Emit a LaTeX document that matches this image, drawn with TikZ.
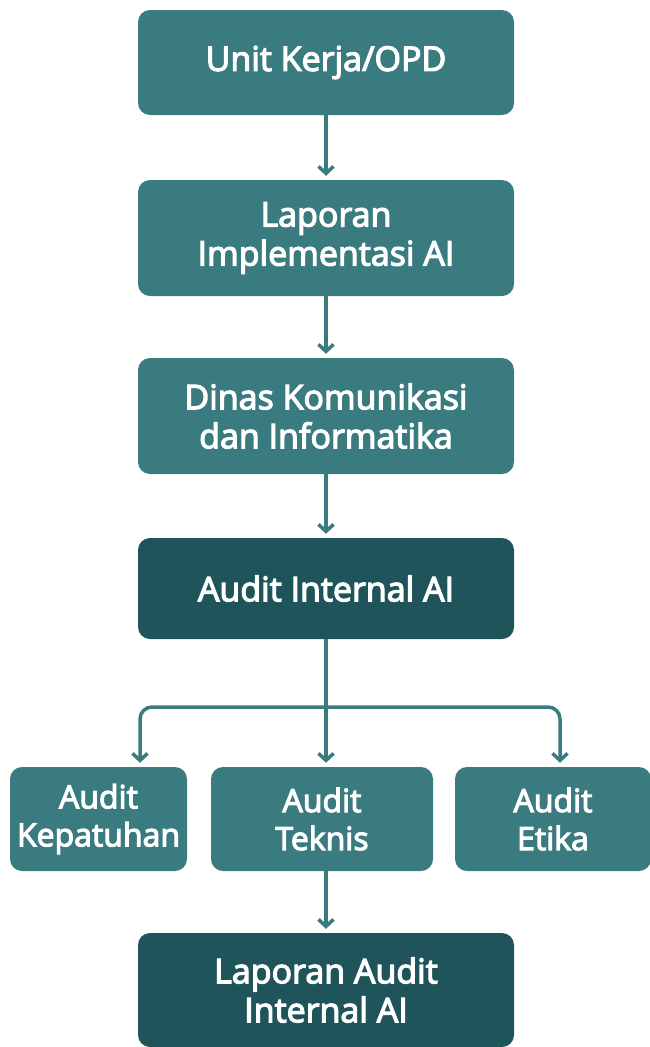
\documentclass[tikz,border=0pt]{standalone}
\usepackage{fontspec}
\setmainfont{Open Sans}
\newfontfamily\lblfont{Open Sans}[FakeBold=3.5]
\usetikzlibrary{arrows.meta}
\definecolor{teal1}{HTML}{3A7B80}
\definecolor{teal2}{HTML}{1F555A}
\definecolor{arrc}{HTML}{3A7B80}
\tikzset{
  box/.style={draw=none, fill=teal1, rounded corners=12pt, text=white, align=center,
    minimum width=376pt, minimum height=105pt, inner sep=0pt,
    font=\lblfont\fontsize{34}{39}\selectfont},
  darkbox/.style={box, fill=teal2},
  smallbox/.style={box, minimum height=104pt, font=\lblfont\fontsize{32}{38}\selectfont},
  conn/.style={draw=arrc, line width=3.5pt, -{Straight Barb[length=7pt,width=15pt,line width=3.5pt]}, shorten >=4pt},
}
\begin{document}
\begin{tikzpicture}[x=1pt,y=-1pt]
\useasboundingbox (0,0) rectangle (649,1047);
\node[box] (n1) at (326,62.5) {Unit Kerja/OPD};
\node[box, minimum height=116pt] (n2) at (326,238) {Laporan\\Implementasi AI};
\node[box, minimum height=116pt] (n3) at (326,416) {Dinas Komunikasi\\dan Informatika};
\node[darkbox, minimum height=101pt] (n4) at (326,588.5) {Audit Internal AI};
\node[smallbox, minimum width=177pt] (n5) at (98.5,819) {Audit\\Kepatuhan};
\node[smallbox, minimum width=222pt] (n6) at (322,819) {Audit\\Teknis};
\node[smallbox, minimum width=196pt] (n7) at (553,819) {Audit\\Etika};
\node[darkbox, minimum height=114pt] (n8) at (326,990) {Laporan Audit\\Internal AI};
\coordinate (j) at (326,707);
\coordinate (kx) at (140,707);
\coordinate (ex) at (560,707);
\draw[conn] (n1) -- (n2);
\draw[conn] (n2) -- (n3);
\draw[conn] (n3) -- (n4);
\draw[conn] (n4.south) -- (n6.north -| n4.south);
\draw[conn, rounded corners=12pt] (j) -| (n5.north -| kx);
\draw[conn, rounded corners=12pt] (j) -| (n7.north -| ex);
\draw[conn] (n6.south -| n4.south) -- (n8.north);
\end{tikzpicture}
\end{document}
